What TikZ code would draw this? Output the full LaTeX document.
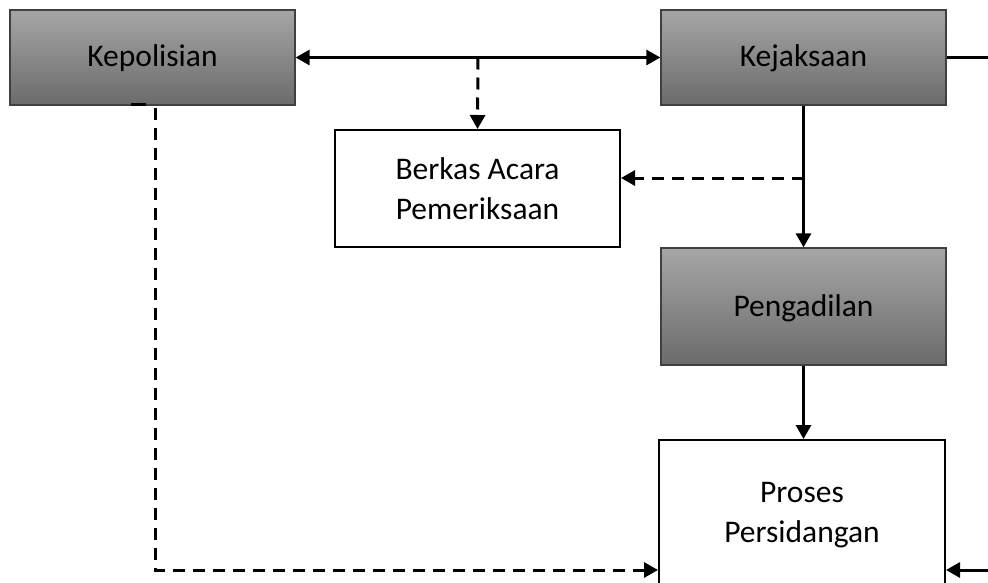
\documentclass[tikz,border=0pt]{standalone}
\usepackage{fontspec}
\setmainfont{Carlito}
\usetikzlibrary{arrows.meta}
\begin{document}
\begin{tikzpicture}[x=1pt,y=-1pt,
  graybox/.style={draw=black!75, line width=1.3pt, top color=black!35, bottom color=black!58,
    minimum width=285pt, minimum height=95pt, inner sep=0pt, align=center,
    text height=24pt, text depth=5pt,
    font=\fontsize{31.5}{40}\selectfont},
  whitebox/.style={draw=black, line width=2pt, fill=white,
    minimum width=285pt, inner sep=0pt, align=center,
    font=\fontsize{31.5}{40}\selectfont},
  conn/.style={line width=3pt, -{Triangle[length=14pt,width=15pt]}},
  dconn/.style={conn, dash pattern=on 12pt off 8pt}
]
\useasboundingbox (0,0) rectangle (988,583);
\node[graybox] (kep) at (152.5,57.5) {Kepolisian};
\node[graybox] (kej) at (803.5,57.5) {Kejaksaan};
\node[whitebox, minimum height=117pt] (bap) at (477.5,188.5) {Berkas Acara\\Pemeriksaan};
\node[graybox, minimum height=117pt] (peng) at (803.5,306.5) {Pengadilan};
\node[whitebox, minimum width=286pt, minimum height=150pt] (pros) at (802,515) {Proses\\Persidangan};

\coordinate (m1) at (478,57.5);
\coordinate (m2) at (803.5,178);
\coordinate (pin) at (659,570);
\coordinate (rin) at (988,570);
\coordinate (rout) at (988,57.5);

\draw[line width=3pt, {Triangle[length=14pt,width=15pt]}-{Triangle[length=14pt,width=15pt]}] (kep.east) -- (kej.west);
\draw[dconn] (m1) -- (bap.north);
\draw[line width=3pt] (kej.east) -- (rout);
\draw[conn] (kej.south) -- (peng.north);
\draw[dconn] (m2) -- (m2 -| bap.east);
\draw[conn] (peng.south) -- (peng.south |- pros.north);
\draw[dconn] ([xshift=2.5pt,yshift=-2pt]kep.south) |- (pros.west |- pin);
\draw[conn] (rin) -- (rin -| pros.east);
\draw[line width=3pt] (131,104.5) -- (146,104.5);
\end{tikzpicture}
\end{document}
